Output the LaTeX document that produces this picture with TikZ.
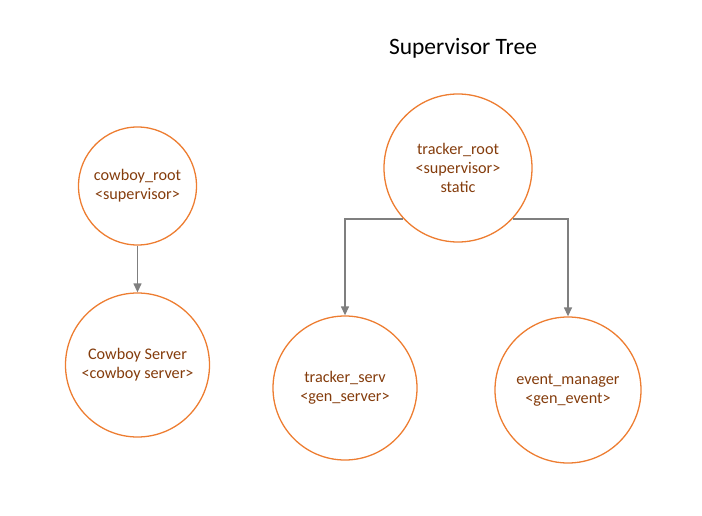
\documentclass[tikz,border=0pt]{standalone}
\usepackage{fontspec}
\setmainfont{Carlito}
\usetikzlibrary{arrows.meta}
\definecolor{borda}{HTML}{ED7D31}
\definecolor{texto}{HTML}{843C0C}
\definecolor{linha}{HTML}{7F7F7F}

\begin{document}
\begin{tikzpicture}[x=1pt, y=-1pt,
    processo/.style={circle, draw=borda, line width=1.3pt, text=texto, align=center,
                     inner sep=0pt, font=\fontsize{16.2}{19}\selectfont},
    seta/.style={-{Triangle[length=9pt, width=8pt]}, draw=linha, line width=1.3pt}]
  \useasboundingbox (0,0) rectangle (702,516);
  \node[font=\fontsize{23.5}{28}\selectfont] (titulo) at (463,48) {Supervisor Tree};
  \node[processo, minimum size=118pt] (cr) at (137.5,186) {cowboy\_root\\<supervisor>};
  \node[processo, minimum size=144pt] (cs) at (137.5,365) {Cowboy Server\\<cowboy server>};
  \node[processo, minimum size=148pt] (tr) at (458,168) {tracker\_root\\<supervisor>\\static};
  \node[processo, minimum size=144pt] (ts) at (345,388) {tracker\_serv\\<gen\_server>};
  \node[processo, minimum size=146pt] (em) at (568,390) {event\_manager\\<gen\_event>};
  \draw[seta] (cr) -- (cs);
  \draw[seta] (tr.-137) -| (ts);
  \draw[seta] (tr.-43) -| (em);
\end{tikzpicture}
\end{document}
